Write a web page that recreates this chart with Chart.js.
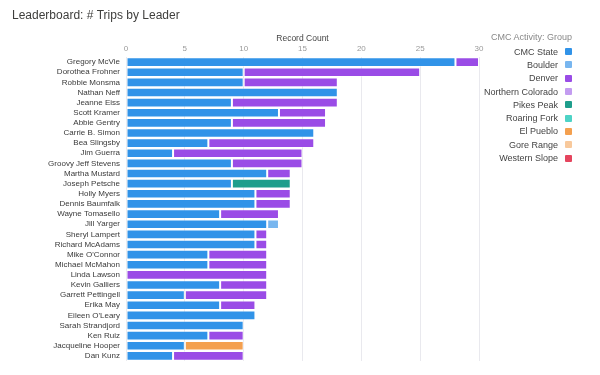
<!DOCTYPE html>
<html>
<head>
<meta charset="utf-8">
<script src="https://cdn.jsdelivr.net/npm/chart.js@4.4.1/dist/chart.umd.min.js"></script>
<style>
  html, body { margin: 0; padding: 0; background: #fff; }
  #wrap { position: relative; width: 600px; height: 375px; font-family: Arial, "Liberation Sans", sans-serif; }
  #legend { position: absolute; top: 30px; right: 28px; text-align: right; }
  #legend .lt { font-size: 9px; color: #888; height: 14px; line-height: 14px; margin-bottom: 1px; }
  #legend .it { display: flex; justify-content: flex-end; align-items: center; height: 13.3px; font-size: 9px; color: #444; }
  #legend .bx { width: 7px; height: 7px; margin-left: 7px; border-radius: 1px; }
</style>
</head>
<body>
<div id="wrap">
  <canvas id="c" width="600" height="375"></canvas>
  <div id="legend"></div>
</div>
<script>
const leaders = ["Gregory McVie","Dorothea Frohner","Robbie Monsma","Nathan Neff","Jeanne Eiss","Scott Kramer","Abbie Gentry","Carrie B. Simon","Bea Slingsby","Jim Guerra","Groovy Jeff Stevens","Martha Mustard","Joseph Petsche","Holly Myers","Dennis Baumfalk","Wayne Tomasello","Jill Yarger","Sheryl Lampert","Richard McAdams","Mike O'Connor","Michael McMahon","Linda Lawson","Kevin Galliers","Garrett Pettingell","Erika May","Eileen O'Leary","Sarah Strandjord","Ken Ruiz","Jacqueline Hooper","Dan Kunz"];
const groups = ["CMC State","Boulder","Denver","Northern Colorado","Pikes Peak","Roaring Fork","El Pueblo","Gore Range","Western Slope"];
const cmcState   = [28,10,10,18,9,13,9,16,7,4,9,12,9,11,11,8,12,11,11,7,7,0,8,5,8,11,10,7,5,4];
const boulder    = [0,0,0,0,0,0,0,0,0,0,0,0,0,0,0,0,1,0,0,0,0,0,0,0,0,0,0,0,0,0];
const denver     = [2,15,8,0,9,4,8,0,9,11,6,2,0,3,3,5,0,1,1,5,5,12,4,7,3,0,0,3,0,6];
const northernColorado = [0,0,0,0,0,0,0,0,0,0,0,0,0,0,0,0,0,0,0,0,0,0,0,0,0,0,0,0,0,0];
const pikesPeak  = [0,0,0,0,0,0,0,0,0,0,0,0,5,0,0,0,0,0,0,0,0,0,0,0,0,0,0,0,0,0];
const roaringFork= [0,0,0,0,0,0,0,0,0,0,0,0,0,0,0,0,0,0,0,0,0,0,0,0,0,0,0,0,0,0];
const elPueblo   = [0,0,0,0,0,0,0,0,0,0,0,0,0,0,0,0,0,0,0,0,0,0,0,0,0,0,0,0,5,0];
const goreRange  = [0,0,0,0,0,0,0,0,0,0,0,0,0,0,0,0,0,0,0,0,0,0,0,0,0,0,0,0,0,0];
const westernSlope = [0,0,0,0,0,0,0,0,0,0,0,0,0,0,0,0,0,0,0,0,0,0,0,0,0,0,0,0,0,0];
const xTicks = [0,5,10,15,20,25,30];

const seriesValues = [cmcState, boulder, denver, northernColorado, pikesPeak, roaringFork, elPueblo, goreRange, westernSlope];
const colors = ["#3193e8","#78b6ef","#9a4ce6","#c39cf0","#1e9e8c","#4dd3c6","#f4a04f","#f8c99c","#e5455e"];

const datasets = groups.map((g, i) => ({
  label: g,
  data: seriesValues[i].map(v => v === 0 ? null : v),
  backgroundColor: colors[i],
  borderColor: 'rgba(255,255,255,0.4)',
  borderWidth: 1,
  borderSkipped: false,
  barPercentage: 0.95,
  categoryPercentage: 1.0
}));

new Chart(document.getElementById('c'), {
  type: 'bar',
  data: { labels: leaders, datasets },
  options: {
    indexAxis: 'y',
    responsive: false,
    animation: false,
    layout: { padding: { left: 12, right: 121, top: 0, bottom: 14 } },
    plugins: {
      legend: { display: false },
      tooltip: { enabled: false },
      title: {
        display: true,
        text: 'Leaderboard: # Trips by Leader',
        align: 'start',
        color: '#3e3e3c',
        font: { family: 'Arial', size: 12, weight: 'normal' },
        padding: { top: 8, bottom: 4 }
      }
    },
    scales: {
      x: {
        position: 'top',
        stacked: true,
        min: 0,
        max: 30,
        afterBuildTicks: s => { s.ticks = xTicks.map(v => ({ value: v })); },
        afterFit: s => { s.height = 30.6; },
        border: { display: false },
        grid: { color: '#e9e9ee', drawTicks: false, lineWidth: 1 },
        ticks: { color: '#9a9a9a', font: { family: 'Arial', size: 8 }, padding: 3 },
        title: {
          display: true, text: 'Record Count', color: '#444',
          font: { family: 'Arial', size: 8.5 }, padding: { top: 7, bottom: 0 }
        }
      },
      y: {
        stacked: true,
        afterFit: s => { s.width = 114; },
        border: { display: false },
        grid: { display: false, drawTicks: false },
        ticks: { color: '#3a3a3a', font: { family: 'Arial', size: 8 }, padding: 6, autoSkip: false }
      }
    }
  }
});

const lg = document.getElementById('legend');
const t = document.createElement('div'); t.className = 'lt'; t.textContent = 'CMC Activity: Group'; lg.appendChild(t);
groups.forEach((g, i) => {
  const it = document.createElement('div'); it.className = 'it';
  const s = document.createElement('span'); s.textContent = g;
  const b = document.createElement('span'); b.className = 'bx'; b.style.background = colors[i];
  it.appendChild(s); it.appendChild(b); lg.appendChild(it);
});
</script>
</body>
</html>
